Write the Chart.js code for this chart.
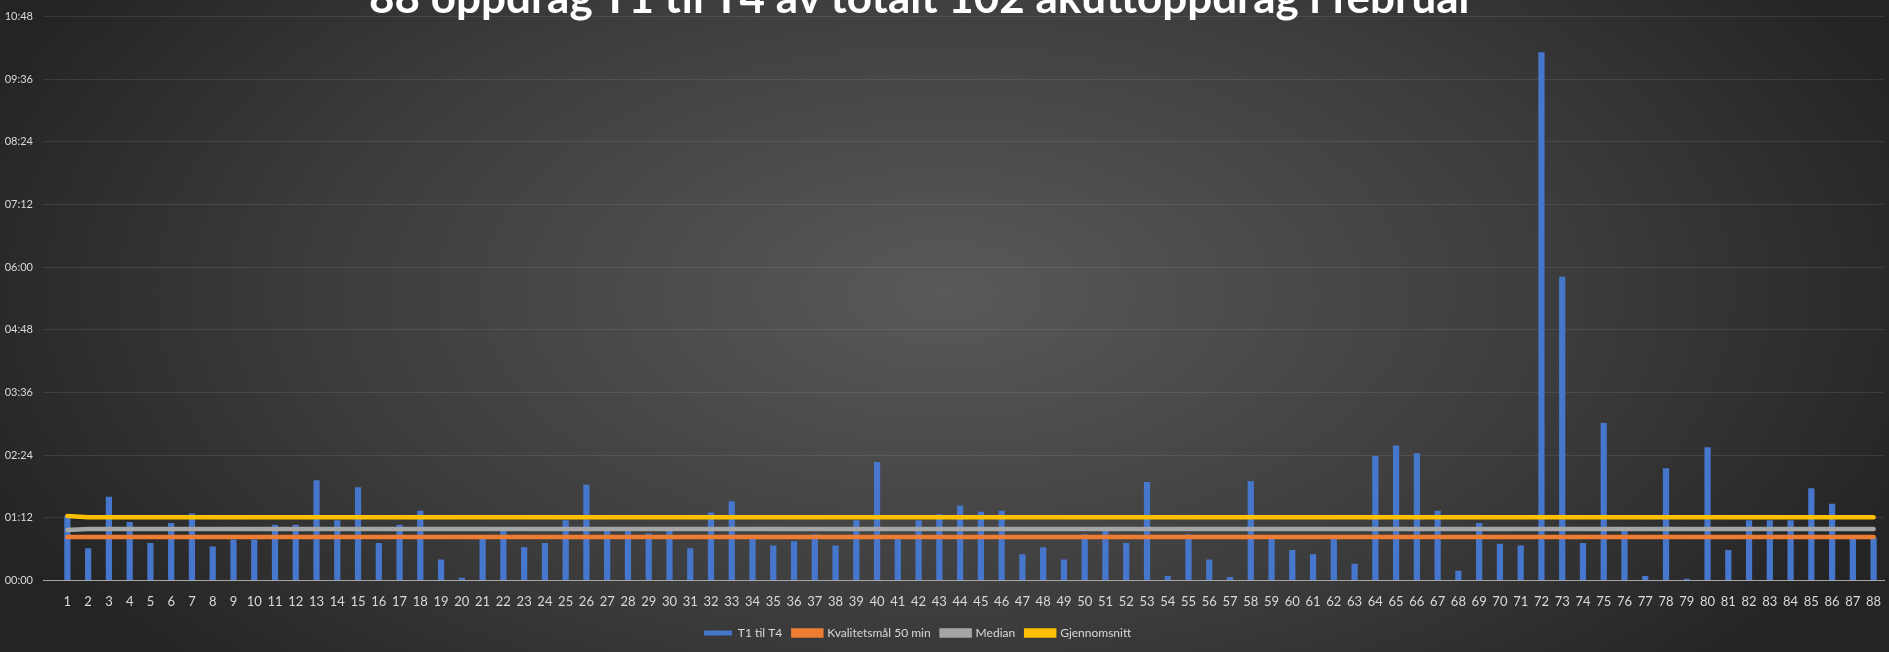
<!DOCTYPE html>
<html lang="no">
<head>
    <meta charset="UTF-8">
    <title>88 oppdrag T1 til T4 av totalt 102 akuttoppdrag i februar</title>
    <script src="https://cdn.jsdelivr.net/npm/chart.js"></script>
    <style>
        html, body { margin: 0; padding: 0; }
        body {
            width: 1889px;
            height: 652px;
            overflow: hidden;
            position: relative;
            background: radial-gradient(ellipse 55% 85% at 50% 45%, #595959 0%, #3c3c3c 60%, #242424 100%);
            font-family: Lato, "Open Sans", sans-serif;
        }
        .chart-title {
            position: absolute;
            left: 0;
            top: -26px;
            width: 1844px;
            text-align: center;
            color: #ffffff;
            font-weight: bold;
            font-size: 44px;
            line-height: 1;
            white-space: nowrap;
            z-index: 2;
        }
        .chart-box {
            position: absolute;
            left: 0;
            top: 0;
            width: 1889px;
            height: 652px;
        }
    </style>
</head>
<body>
    <div class="chart-title">88 oppdrag T1 til T4 av totalt 102 akuttoppdrag i februar</div>
    <div class="chart-box"><canvas id="responseChart"></canvas></div>

    <script>
        // Oppdrag nr. 1-88
        const categories = [1, 2, 3, 4, 5, 6, 7, 8, 9, 10, 11, 12, 13, 14, 15, 16, 17, 18, 19, 20,
            21, 22, 23, 24, 25, 26, 27, 28, 29, 30, 31, 32, 33, 34, 35, 36, 37, 38, 39, 40,
            41, 42, 43, 44, 45, 46, 47, 48, 49, 50, 51, 52, 53, 54, 55, 56, 57, 58, 59, 60,
            61, 62, 63, 64, 65, 66, 67, 68, 69, 70, 71, 72, 73, 74, 75, 76, 77, 78, 79, 80,
            81, 82, 83, 84, 85, 86, 87, 88];

        // Tid T1 til T4 i minutter
        const t1TilT4 = [74, 37, 96, 67, 43, 66, 77, 39, 47, 47, 64, 64, 115, 69, 107, 43, 64, 80, 24, 3,
            48, 58, 38, 43, 69, 110, 59, 59, 54, 59, 37, 78, 91, 48, 40, 45, 53, 40, 69, 136,
            48, 69, 76, 86, 79, 80, 30, 38, 24, 53, 59, 43, 113, 5, 53, 24, 4, 114, 48, 35,
            30, 48, 19, 143, 155, 146, 80, 11, 66, 42, 40, 607, 349, 43, 181, 58, 5, 129, 2, 153,
            35, 69, 69, 69, 106, 88, 48, 49];

        const kvalitetsmal = [50, 50, 50, 50, 50, 50, 50, 50, 50, 50, 50, 50, 50, 50, 50, 50, 50, 50, 50, 50,
            50, 50, 50, 50, 50, 50, 50, 50, 50, 50, 50, 50, 50, 50, 50, 50, 50, 50, 50, 50,
            50, 50, 50, 50, 50, 50, 50, 50, 50, 50, 50, 50, 50, 50, 50, 50, 50, 50, 50, 50,
            50, 50, 50, 50, 50, 50, 50, 50, 50, 50, 50, 50, 50, 50, 50, 50, 50, 50, 50, 50,
            50, 50, 50, 50, 50, 50, 50, 50];

        const median = [58, 59, 59, 59, 59, 59, 59, 59, 59, 59, 59, 59, 59, 59, 59, 59, 59, 59, 59, 59,
            59, 59, 59, 59, 59, 59, 59, 59, 59, 59, 59, 59, 59, 59, 59, 59, 59, 59, 59, 59,
            59, 59, 59, 59, 59, 59, 59, 59, 59, 59, 59, 59, 59, 59, 59, 59, 59, 59, 59, 59,
            59, 59, 59, 59, 59, 59, 59, 59, 59, 59, 59, 59, 59, 59, 59, 59, 59, 59, 59, 59,
            59, 59, 59, 59, 59, 59, 59, 59];

        const gjennomsnitt = [74, 72.5, 72.5, 72.5, 72.5, 72.5, 72.5, 72.5, 72.5, 72.5, 72.5, 72.5, 72.5, 72.5, 72.5, 72.5, 72.5, 72.5, 72.5, 72.5,
            72.5, 72.5, 72.5, 72.5, 72.5, 72.5, 72.5, 72.5, 72.5, 72.5, 72.5, 72.5, 72.5, 72.5, 72.5, 72.5, 72.5, 72.5, 72.5, 72.5,
            72.5, 72.5, 72.5, 72.5, 72.5, 72.5, 72.5, 72.5, 72.5, 72.5, 72.5, 72.5, 72.5, 72.5, 72.5, 72.5, 72.5, 72.5, 72.5, 72.5,
            72.5, 72.5, 72.5, 72.5, 72.5, 72.5, 72.5, 72.5, 72.5, 72.5, 72.5, 72.5, 72.5, 72.5, 72.5, 72.5, 72.5, 72.5, 72.5, 72.5,
            72.5, 72.5, 72.5, 72.5, 72.5, 72.5, 72.5, 72.5];

        // y-akse: hver 72. minutt
        const yTickLabels = ['00:00', '01:12', '02:24', '03:36', '04:48', '06:00', '07:12', '08:24', '09:36', '10:48'];

        const labelColor = '#d9d9d9';

        // legend sits a bit left of the canvas centre in the original
        const legendShift = {
            id: 'legendShift',
            afterLayout(chart) {
                chart.legend.left -= 27;
                chart.legend.right -= 27;
            }
        };

        const ctx = document.getElementById('responseChart').getContext('2d');
        new Chart(ctx, {
            type: 'bar',
            data: {
                labels: categories,
                datasets: [
                    {
                        label: 'T1 til T4',
                        data: t1TilT4,
                        backgroundColor: '#4677cc',
                        barPercentage: 0.3,
                        categoryPercentage: 1,
                        order: 1
                    },
                    {
                        type: 'line',
                        label: 'Kvalitetsmål 50 min',
                        data: kvalitetsmal,
                        borderColor: '#ed7d31',
                        backgroundColor: '#ed7d31',
                        borderWidth: 4.5,
                        borderCapStyle: 'round',
                        pointRadius: 0,
                        order: 0
                    },
                    {
                        type: 'line',
                        label: 'Median',
                        data: median,
                        borderColor: '#a5a5a5',
                        backgroundColor: '#a5a5a5',
                        borderWidth: 4.5,
                        borderCapStyle: 'round',
                        pointRadius: 0,
                        order: 0
                    },
                    {
                        type: 'line',
                        label: 'Gjennomsnitt',
                        data: gjennomsnitt,
                        borderColor: '#ffc000',
                        backgroundColor: '#ffc000',
                        borderWidth: 4.5,
                        borderCapStyle: 'round',
                        pointRadius: 0,
                        order: 0
                    }
                ]
            },
            options: {
                responsive: true,
                maintainAspectRatio: false,
                animation: false,
                layout: {
                    padding: { top: 6, left: 5, right: 5, bottom: 3 }
                },
                plugins: {
                    legend: {
                        position: 'bottom',
                        labels: {
                            boxWidth: 28,
                            boxHeight: 5,
                            padding: 11,
                            color: labelColor,
                            font: { family: 'Lato', size: 12 },
                            sort: (a, b) => a.datasetIndex - b.datasetIndex
                        }
                    },
                    tooltip: { enabled: false }
                },
                scales: {
                    x: {
                        grid: { display: false },
                        border: { color: '#a6a6a6' },
                        ticks: {
                            color: labelColor,
                            font: { family: 'Lato', size: 13 },
                            autoSkip: false,
                            maxRotation: 0,
                            padding: 6
                        }
                    },
                    y: {
                        min: 0,
                        max: 648,
                        border: { display: false },
                        afterFit: (scale) => { scale.width = 52; },
                        grid: {
                            tickLength: 14,
                            color: (c) => c.tick && c.tick.value === 0 ? '#a6a6a6' : 'rgba(255,255,255,0.09)'
                        },
                        ticks: {
                            stepSize: 72,
                            padding: 10,
                            color: labelColor,
                            font: { family: 'Lato', size: 11 },
                            callback: (value) => yTickLabels[Math.round(value / 72)]
                        }
                    }
                }
            },
            plugins: [legendShift]
        });
    </script>
</body>
</html>
